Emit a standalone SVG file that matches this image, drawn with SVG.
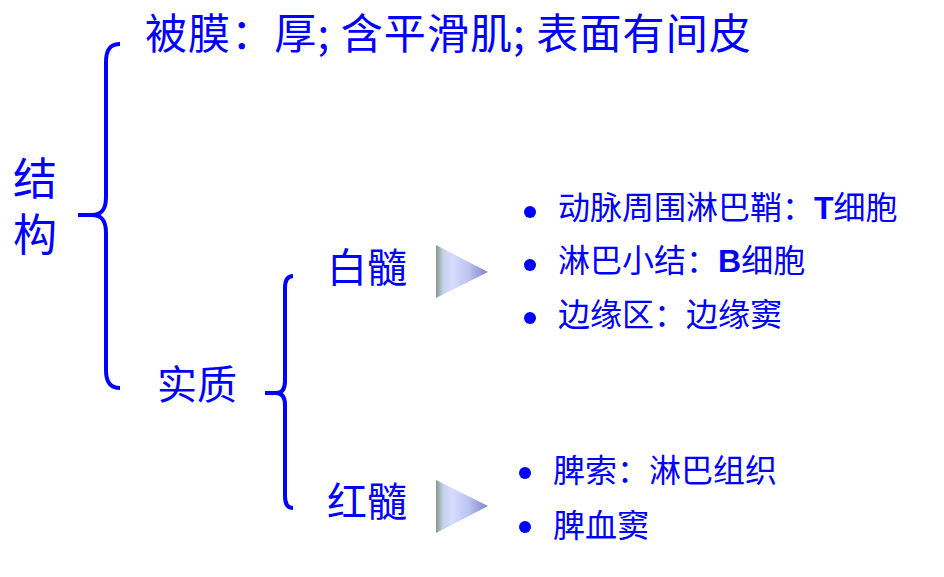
<svg xmlns="http://www.w3.org/2000/svg" width="944" height="577" viewBox="0 0 944 577">
<defs>
<style>
text{fill:#0000FF;font-family:"Noto Sans CJK SC","Noto Sans",sans-serif;}
.big{font-size:42px;letter-spacing:1.1px;}
.mid{font-size:40px;}
.sm{font-size:32px;}
.vert{font-size:44px;writing-mode:vertical-rl;text-orientation:upright;letter-spacing:12px;}
.lat{font-family:"Liberation Sans",Arial,sans-serif;font-weight:bold;}
.brace{fill:none;stroke:#0000FF;stroke-width:4;stroke-linecap:butt;}
.dot{fill:#0000FF;}
.tri{fill:url(#tg);}
</style>
<linearGradient id="tg" x1="0" y1="0" x2="1" y2="0">
<stop offset="0" stop-color="#86978a"/>
<stop offset="0.14" stop-color="#c6d2ea"/>
<stop offset="0.32" stop-color="#d4dcfc"/>
<stop offset="0.62" stop-color="#bcc4f0"/>
<stop offset="1" stop-color="#7c84c4"/>
</linearGradient>
</defs>
<rect width="944" height="577" fill="#ffffff"/>
<g id="connectors">
<path class="brace" d="M120,44 C110,44 106,50 106,62 L106,197 C106,209 102,215 92,215 L78,215 M92,215 C102,215 106,221 106,233 L106,370 C106,382 110,388 120,388"/>
<path class="brace" d="M293,276 C288,276 285,280 285,288 L285,381 C285,389 282,393 276,393 L265,393 M276,393 C282,393 285,397 285,405 L285,496 C285,504 288,508 293,508"/>
<polygon class="tri" points="436,245 488,272 436,298"/>
<polygon class="tri" points="436,480 488,506 436,533"/>
</g>
<g id="node-structure">
<text class="vert" x="35" y="156">结构</text>
</g>
<g id="node-capsule">
<text class="big" x="145" y="49">被膜：厚; 含平滑肌; 表面有间皮</text>
</g>
<g id="node-parenchyma">
<text class="mid" x="157" y="399">实质</text>
</g>
<g id="node-white-pulp">
<text class="mid" x="327" y="282">白髓</text>
</g>
<g id="node-red-pulp">
<text class="mid" x="327" y="516">红髓</text>
</g>
<g id="node-white-items">
<circle class="dot" cx="530" cy="212" r="6"/>
<text class="sm" x="558" y="219">动脉周围淋巴鞘：<tspan class="lat">T</tspan>细胞</text>
<circle class="dot" cx="530" cy="265" r="6"/>
<text class="sm" x="558" y="272">淋巴小结：<tspan class="lat">B</tspan>细胞</text>
<circle class="dot" cx="530" cy="318" r="6"/>
<text class="sm" x="558" y="326">边缘区：边缘窦</text>
</g>
<g id="node-red-items">
<circle class="dot" cx="525" cy="473" r="6"/>
<text class="sm" x="553" y="482">脾索：淋巴组织</text>
<circle class="dot" cx="525" cy="527" r="6"/>
<text class="sm" x="553" y="537">脾血窦</text>
</g>
</svg>
